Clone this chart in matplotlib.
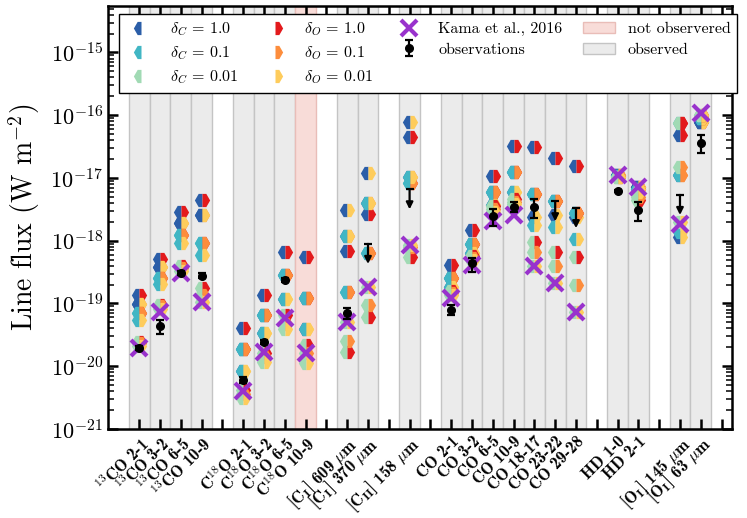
import os
import numpy as np
import matplotlib
import matplotlib.pyplot as plt
from matplotlib.lines import Line2D
from matplotlib.patches import Patch
from matplotlib.font_manager import FontProperties

plt.rcParams['font.family'] = 'cmr10'
plt.rcParams['mathtext.fontset'] = 'cm'
plt.rcParams['axes.formatter.use_mathtext'] = True

# line groups (a gap column is left between groups)
groups = [
    [r'$\mathbf{^{13}}$CO 2-1', r'$\mathbf{^{13}}$CO 3-2', r'$\mathbf{^{13}}$CO 6-5', r'$\mathbf{^{13}}$CO 10-9'],
    [r'C$\mathbf{^{18}}$O 2-1', r'C$\mathbf{^{18}}$O 3-2', r'C$\mathbf{^{18}}$O 6-5', r'C$\mathbf{^{18}}$O 10-9'],
    [r'[C$_\mathbf{I}$] 609 $\mu$m', r'[C$_\mathbf{I}$] 370 $\mu$m'],
    [r'[C$_\mathbf{II}$] 158 $\mu$m'],
    ['CO 2-1', 'CO 3-2', 'CO 6-5', 'CO 10-9', 'CO 18-17', 'CO 23-22', 'CO 29-28'],
    ['HD 1-0', 'HD 2-1'],
    [r'[O$_\mathbf{I}$] 145 $\mu$m', r'[O$_\mathbf{I}$] 63 $\mu$m'],
]
observed = [True, True, True, True, True, True, True, False, True, True, True,
            True, True, True, True, True, True, True, True, True, True, True]

# model line fluxes, log10(W m^-2); rows of the delta_C x delta_O grid
c1_o1 = [-18.87, -18.29, -17.54, -17.35, -19.39, -18.87, -18.18, -18.26, -18.17, -17.58, -16.35,
         -18.39, -17.83, -16.97, -16.49, -16.51, -16.68, -16.81, -16.96, -17.15, -16.32, -16.10]
c1_o01 = [-19.01, -18.42, -17.72, -17.59, -19.73, -19.18, -18.55, -18.91, -17.93, -17.40, -16.99,
          -18.60, -18.05, -17.23, -16.91, -17.26, -17.37, -17.56, -16.96, -17.15, -16.96, -16.10]
c1_o001 = [-19.01, -18.42, -17.72, -17.59, -20.08, -19.47, -18.93, -19.41, -17.51, -16.92, -16.10,
           -18.74, -18.20, -17.43, -17.23, -17.62, -17.59, -17.62, -16.96, -17.15, -17.94, -16.10]
c01_o1 = [-19.15, -18.60, -17.91, -18.04, -19.73, -19.18, -18.55, -18.91, -18.82, -18.20, -17.08,
          -18.60, -18.05, -17.23, -16.91, -17.26, -17.37, -17.56, -16.97, -17.17, -16.13, -16.05]
c01_o01 = [-19.15, -18.60, -17.91, -18.04, -19.73, -19.18, -18.55, -18.91, -18.82, -18.20, -17.08,
           -18.60, -18.05, -17.23, -16.91, -17.26, -17.37, -17.56, -16.97, -17.17, -16.96, -16.05]
c01_o001 = [-19.26, -18.69, -18.04, -18.23, -20.08, -19.47, -18.93, -19.41, -17.93, -17.40, -16.99,
            -18.74, -18.20, -17.43, -17.23, -17.75, -17.78, -17.97, -16.97, -17.17, -17.86, -16.05]
c001_o1 = [-19.62, -19.02, -18.40, -18.75, -20.38, -19.79, -19.18, -19.66, -19.77, -19.22, -18.26,
           -18.80, -18.24, -17.45, -17.33, -18.02, -18.18, -18.26, -16.99, -17.35, -16.13, -16.00]
c001_o01 = [-19.63, -19.04, -18.43, -18.87, -20.45, -19.85, -19.33, -19.79, -19.60, -19.03, -18.10,
            -18.83, -18.27, -17.50, -17.38, -18.18, -18.40, -18.71, -16.99, -17.30, -16.83, -16.00]
c001_o001 = [-19.68, -19.08, -18.48, -18.98, -20.51, -19.93, -19.40, -19.95, -19.30, -18.74, -18.07,
             -18.86, -18.30, -17.55, -17.42, -18.40, -18.68, -19.14, -16.99, -17.23, -17.70, -16.00]

kama = [-19.71, -19.14, -18.52, -18.98, -20.40, -19.77, -19.23, -19.79, -19.30, -18.74, -18.07,
        -18.91, -18.39, -17.68, -17.59, -18.40, -18.68, -19.14, -16.96, -17.15, -17.74, -15.97]

# observations, log10 flux with errors in dex; nan = not observed
obs = [-19.71, -19.36, -18.52, -18.56, -20.22, -19.61, -18.63, np.nan, -19.15, -18.05, -17.18,
       -19.10, -18.36, -17.61, -17.46, -17.46, -17.37, -17.48, -17.21, -17.51, -17.27, -16.45]
obs_err_lo = [0.03, 0.13, 0.03, 0.04, 0.05, 0.03, 0.03, 0, 0.09, 0, 0,
              0.08, 0.14, 0.16, 0.08, 0.18, 0, 0, 0.02, 0.17, 0, 0.15]
obs_err_hi = [0.03, 0.10, 0.03, 0.04, 0.05, 0.03, 0.03, 0, 0.08, 0, 0,
              0.08, 0.09, 0.12, 0.07, 0.12, 0, 0, 0.02, 0.12, 0, 0.13]
upper_limit = [False, False, False, False, False, False, False, False, False, True, True,
               False, False, False, False, False, True, True, False, False, True, False]

deltas_C = ['1.0', '0.1', '0.01']
deltas_O = ['1.0', '0.1', '0.01']
colors_C = ['#2b5ea8', '#41b6c4', '#a1dab4']
colors_O = ['#e31a1c', '#fd8d3c', '#fecc5c']
models = [[c1_o1, c1_o01, c1_o001], [c01_o1, c01_o01, c01_o001], [c001_o1, c001_o01, c001_o001]]

# x positions with gaps between groups
labels, positions = [], []
p = 0
for g in groups:
    for lab in g:
        labels.append(lab)
        positions.append(p)
        p += 1
    p += 1
nslots = p - 1
positions = np.array(positions)

fig = plt.figure(figsize=(7.47, 5.18), dpi=100)
ax = fig.add_axes([0.1446, 0.1718, 0.8353, 0.8166])

for xp, ob in zip(positions, observed):
    ax.axvspan(xp - 0.5, xp + 0.5, facecolor='#ebebeb' if ob else '#f8dcd8',
               edgecolor='#c4c4c4' if ob else '#e9bdb8', lw=1, zorder=0)

for i in range(3):
    for j in range(3):
        ax.plot(positions, 10 ** np.array(models[i][j]), ls='none', marker='H', ms=11,
                fillstyle='left', markerfacecolor=colors_C[i], markerfacecoloralt=colors_O[j],
                mew=0, zorder=2)

ax.plot(positions, 10 ** np.array(kama), ls='none', marker='x', ms=11, mew=3,
        color='#9932cc', zorder=3)

obs = np.array(obs)
ul = np.array(upper_limit)
det = ~ul & ~np.isnan(obs)
yv = 10 ** obs[det]
ylo = yv - 10 ** (obs[det] - np.array(obs_err_lo)[det])
yhi = 10 ** (obs[det] + np.array(obs_err_hi)[det]) - yv
eb = ax.errorbar(positions[det], yv, yerr=[ylo, yhi], fmt='o', ms=5.5, color='k',
                 elinewidth=1.6, capsize=3, capthick=1.6, zorder=4)
for xp, v in zip(positions[ul], obs[ul]):
    ax.annotate('', xy=(xp, 10 ** (v - 0.32)), xytext=(xp, 10 ** v),
                arrowprops=dict(arrowstyle='-|>', color='k', lw=1.6, mutation_scale=10,
                                shrinkA=0, shrinkB=0), zorder=4)
ax.plot(positions[ul], 10 ** obs[ul], ls='none', marker='_', ms=6, mew=1.6, color='k', zorder=4)

ax.set_yscale('log')
ax.set_ylim(1e-21, 5.5e-15)
ax.set_yticks(10.0 ** np.arange(-21, -14))
ax.set_xlim(-1.5, nslots + 0.5)
ticklabels = [''] * (nslots + 1)
for xp, lab in zip(positions, labels):
    ticklabels[xp] = lab
ax.set_xticks(np.arange(nslots + 1))
bold_font = FontProperties(fname=os.path.join(matplotlib.get_data_path(), 'fonts', 'ttf', 'cmb10.ttf'),
                           size=12)
ax.set_xticklabels(ticklabels, rotation=45, ha='right', rotation_mode='anchor')
for t in ax.get_xticklabels():
    t.set_fontproperties(bold_font)
ax.tick_params(which='both', direction='in', top=True, right=True)
ax.tick_params(which='major', length=7, width=1.8)
ax.tick_params(axis='y', labelsize=16)
ax.tick_params(which='minor', length=4, width=1.1)
for s in ax.spines.values():
    s.set_linewidth(1.8)
ax.set_ylabel(r'Line flux (W m$^{-2}$)', fontsize=20, labelpad=6)

handles = []
for c, d in zip(colors_C, deltas_C):
    handles.append(Line2D([], [], ls='none', marker='H', ms=11, fillstyle='left',
                          markerfacecolor=c, markerfacecoloralt='none', mew=0,
                          label=r'$\delta_C$ = ' + d))
for c, d in zip(colors_O, deltas_O):
    handles.append(Line2D([], [], ls='none', marker='H', ms=11, fillstyle='right',
                          markerfacecolor=c, markerfacecoloralt='none', mew=0,
                          label=r'$\delta_O$ = ' + d))
handles.append(Line2D([], [], ls='none', marker='x', ms=11, mew=3, color='#9932cc',
                      label='Kama et al., 2016'))
eb.set_label('observations')
handles.append(eb)
handles.append(Patch(facecolor='#f8dcd8', edgecolor='#e9bdb8', label='not observered'))
handles.append(Patch(facecolor='#ebebeb', edgecolor='#c4c4c4', label='observed'))
leg = fig.legend(handles=handles, ncol=4, loc='upper left',
                 bbox_to_anchor=(119 / 747, 1 - 14 / 518), borderaxespad=0,
                 fontsize=11.5, fancybox=False, edgecolor='k', framealpha=1,
                 columnspacing=1.3, handletextpad=0.8, handlelength=2.0,
                 labelspacing=0.4)
leg.get_frame().set_linewidth(1.0)

fig.savefig('out.png', dpi=100)
